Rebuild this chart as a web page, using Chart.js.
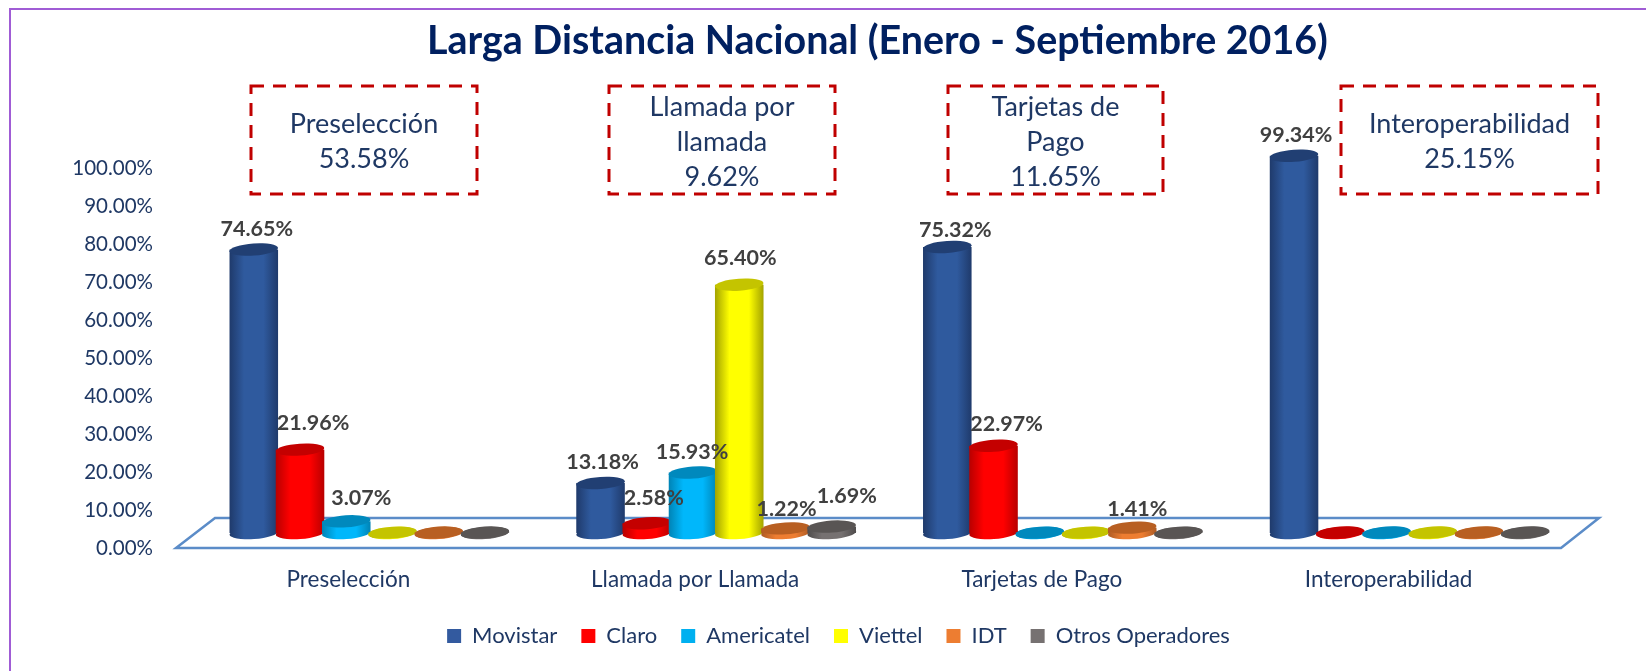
<!DOCTYPE html>
<html>
<head>
<meta charset="utf-8">
<title>Larga Distancia Nacional</title>
<script src="https://cdn.jsdelivr.net/npm/chart.js@4"></script>
<style>
  html, body { margin: 0; padding: 0; background: #fff; overflow: hidden; }
  #wrap { position: relative; width: 1646px; height: 671px; }
  #frame { position: absolute; left: 9px; top: 8px; right: 0; bottom: 0; border-top: 2px solid #a05cd5; border-left: 2px solid #a05cd5; box-sizing: border-box; }
</style>
</head>
<body>
<div id="wrap">
  <div id="frame"></div>
  <canvas id="chart" width="1646" height="671" style="position:absolute;left:0;top:0"></canvas>
</div>
<script>
const categories = ["Preselección", "Llamada por Llamada", "Tarjetas de Pago", "Interoperabilidad"];
const movistar = [74.65, 13.18, 75.32, 99.34];
const claro = [21.96, 2.58, 22.97, 0.13];
const americatel = [3.07, 15.93, 0.1, 0.13];
const viettel = [0.1, 65.40, 0.1, 0.13];
const idt = [0.11, 1.22, 1.41, 0.13];
const otros = [0.11, 1.69, 0.1, 0.13];
const yTicks = [0, 10, 20, 30, 40, 50, 60, 70, 80, 90, 100];

const calloutNames = [["Preselección"], ["Llamada por", "llamada"], ["Tarjetas de", "Pago"], ["Interoperabilidad"]];
const calloutShares = ["53.58%", "9.62%", "11.65%", "25.15%"];

const NAVY = "#002060";
const TEXT = "#1f3864";

// body = face colour, edge = shaded sides, top = lid of the cylinder
const styles = [
    { name: "Movistar", data: movistar, body: "#2f5a9e", edge: "#1f3a6b", top: "#213f73", legend: "#335a9f" },
    { name: "Claro", data: claro, body: "#ff0000", edge: "#b80000", top: "#c40000", legend: "#ff0000" },
    { name: "Americatel", data: americatel, body: "#00b7fb", edge: "#0083b5", top: "#0089bd", legend: "#00b0f0" },
    { name: "Viettel", data: viettel, body: "#ffff00", edge: "#a3a300", top: "#c4c400", legend: "#ffff00" },
    { name: "IDT", data: idt, body: "#ed7d31", edge: "#ad5b24", top: "#b85f22", legend: "#ed7d31" },
    { name: "Otros Operadores", data: otros, body: "#767171", edge: "#4f4c4c", top: "#595554", legend: "#767171" },
];

// hand placed label nudges, the original labels were dragged around: [dx, dy from lid]
const labelNudge = {
    "0,0": [3, -20], "1,0": [13, -27], "2,0": [15, -23],
    "0,1": [2, -21], "1,1": [7, -25], "2,1": [-1, -20], "3,1": [1, -27], "4,1": [1, -19], "5,1": [15, -31],
    "0,2": [8, -17], "1,2": [13, -22], "4,2": [5, -19],
    "0,3": [2, -21],
};

function ellipse(ctx, x, y, rx, ry, color) {
    ctx.beginPath();
    ctx.ellipse(x, y, rx, ry, -0.07, 0, Math.PI * 2);
    ctx.fillStyle = color;
    ctx.fill();
}

const cylinders = {
    id: "cylinders",
    beforeDatasetDraw() {
        return false; // bars are painted below, in series order
    },
    beforeDatasetsDraw(chart) {
        // floor of the 3D chart
        const { ctx } = chart;
        const zero = chart.scales.y.getPixelForValue(0);
        const left = chart.chartArea.left;
        const right = chart.chartArea.right;
        ctx.save();
        ctx.beginPath();
        ctx.moveTo(left - 20, zero + 15);
        ctx.lineTo(right - 22, zero + 15);
        ctx.lineTo(right + 16, zero - 15);
        ctx.lineTo(left + 19, zero - 15);
        ctx.closePath();
        ctx.strokeStyle = "#5b8cc8";
        ctx.lineWidth = 2.5;
        ctx.stroke();
        ctx.restore();
    },
    afterDatasetsDraw(chart) {
        const { ctx } = chart;
        ctx.save();
        styles.forEach((s, i) => {
            chart.getDatasetMeta(i).data.forEach((bar) => {
                const rx = bar.width / 2;
                const ry = 6;
                const grad = ctx.createLinearGradient(bar.x - rx, 0, bar.x + rx, 0);
                grad.addColorStop(0, s.edge);
                grad.addColorStop(0.3, s.body);
                grad.addColorStop(0.7, s.body);
                grad.addColorStop(1, s.edge);
                ellipse(ctx, bar.x, bar.base, rx, ry, grad);
                ctx.fillStyle = grad;
                ctx.fillRect(bar.x - rx, bar.y, bar.width, bar.base - bar.y);
                ellipse(ctx, bar.x, bar.y, rx, ry, s.top);
            });
        });
        ctx.restore();
    },
    afterDraw(chart) {
        const { ctx } = chart;
        ctx.save();
        // data labels
        ctx.font = "bold 21.5px Lato";
        ctx.fillStyle = "#404040";
        ctx.textAlign = "center";
        ctx.textBaseline = "middle";
        styles.forEach((s, i) => {
            chart.getDatasetMeta(i).data.forEach((bar, j) => {
                const nudge = labelNudge[i + "," + j];
                if (!nudge) return;
                ctx.fillText(s.data[j].toFixed(2) + "%", bar.x + nudge[0], bar.y + nudge[1]);
            });
        });
        // dashed callouts, one above each category
        const boxes = [[251, 477], [609, 835], [948, 1163], [1341, 1598]];
        ctx.font = "27px Lato";
        ctx.fillStyle = TEXT;
        boxes.forEach((b, i) => {
            ctx.strokeStyle = "#c00000";
            ctx.lineWidth = 3;
            ctx.setLineDash([13, 9]);
            ctx.strokeRect(b[0], 86, b[1] - b[0], 108);
            ctx.setLineDash([]);
            const lines = calloutNames[i].concat(calloutShares[i]);
            const first = lines.length === 3 ? 107 : 124;
            lines.forEach((t, k) => ctx.fillText(t, (b[0] + b[1]) / 2, first + k * 35));
        });
        ctx.restore();
    },
    afterLayout(chart) {
        // the title sits a little left of the plot centre, the legend to the right of it
        chart.titleBlock.left -= 12;
        chart.titleBlock.right -= 12;
        chart.legend.left += 47;
        chart.legend.right += 47;
    },
};

new Chart(document.getElementById("chart"), {
    type: "bar",
    data: {
        labels: categories,
        datasets: styles.map((s) => ({
            label: s.name,
            data: s.data,
            backgroundColor: s.legend,
            categoryPercentage: 0.8,
            barPercentage: 1.05,
        })),
    },
    options: {
        responsive: false,
        animation: false,
        layout: { autoPadding: false, padding: { left: 0, right: 63, top: 0, bottom: 14 } },
        plugins: {
            tooltip: { enabled: false },
            title: {
                display: true,
                text: "Larga Distancia Nacional (Enero - Septiembre 2016)",
                color: NAVY,
                fullSize: false,
                font: { family: "Lato", size: 39.4, weight: "bold" },
                padding: { top: 18, bottom: 88 },
            },
            legend: {
                position: "bottom",
                labels: {
                    color: TEXT,
                    font: { family: "Lato", size: 22 },
                    boxWidth: 14,
                    boxHeight: 14,
                    padding: 24,
                },
            },
        },
        scales: {
            x: {
                grid: { display: false, drawTicks: false },
                border: { display: false },
                ticks: { color: TEXT, font: { family: "Lato", size: 22.5 }, padding: 33, labelOffset: -21, maxRotation: 0 },
                afterFit(scale) { scale.height = 68; },
            },
            y: {
                min: 0,
                max: 100,
                grid: { display: false, drawTicks: false },
                border: { display: false },
                afterBuildTicks(scale) { scale.ticks = yTicks.map((v) => ({ value: v })); },
                ticks: {
                    color: TEXT,
                    font: { family: "Lato", size: 20.5 },
                    padding: 43,
                    labelOffset: 15,
                    callback: (v) => v.toFixed(2) + "%",
                },
                afterFit(scale) { scale.width = 196; },
            },
        },
    },
    plugins: [cylinders],
});
</script>
</body>
</html>
